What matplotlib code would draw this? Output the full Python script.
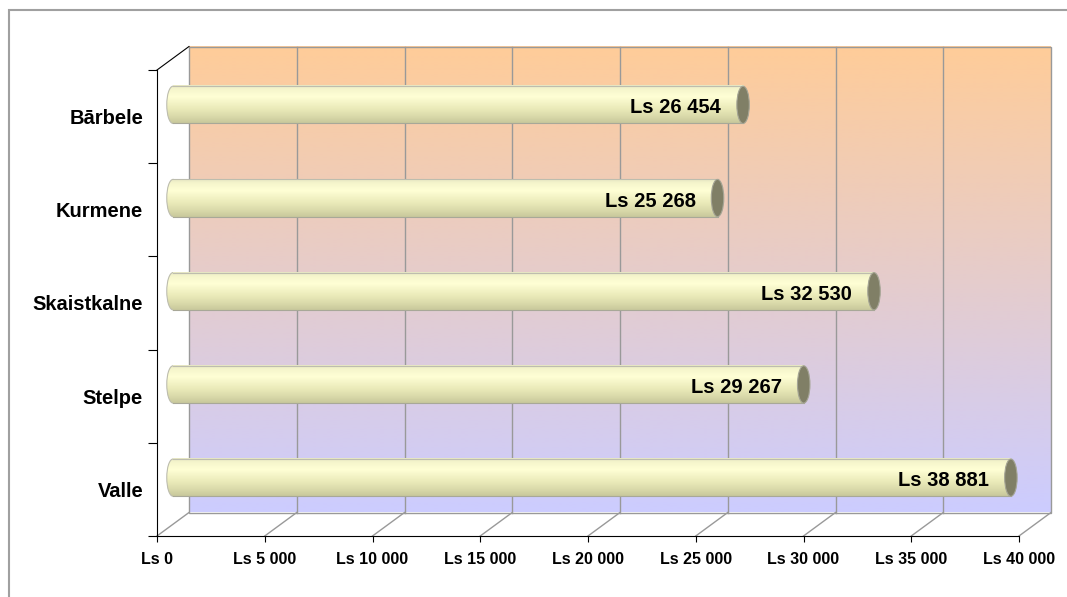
import numpy as np
import matplotlib
matplotlib.use("Agg")
import matplotlib.pyplot as plt
from matplotlib import transforms as mtransforms
from matplotlib.patches import Ellipse, Rectangle

# data (top to bottom as in the chart)
names = ["Bārbele", "Kurmene", "Skaistkalne", "Stelpe", "Valle"]
values = [26454, 25268, 32530, 29267, 38881]
ticks = [0, 5000, 10000, 15000, 20000, 25000, 30000, 35000, 40000]


def ls(v):
    return "Ls " + f"{v:,}".replace(",", " ")


plt.rcParams["font.family"] = ["Liberation Sans", "DejaVu Sans"]
plt.rcParams["font.weight"] = "bold"

W, H = 1067, 597
fig = plt.figure(figsize=(W / 100, H / 100), dpi=100)
ax = fig.add_axes([157 / W, (H - 536) / H, (1019 - 157) / W, (536 - 70) / H])
ax.set_xlim(0, 40000)
ax.set_ylim(0, len(names))
ax.patch.set_visible(False)

# depth planes (3d look)
back = ax.transData + mtransforms.ScaledTranslation(0.32, 0.235, fig.dpi_scale_trans)
mid = ax.transData + mtransforms.ScaledTranslation(0.16, 0.1175, fig.dpi_scale_trans)

# back wall with gradient
t = np.linspace(0, 1, 256)[:, None, None]
top_c = np.array([255, 204, 153]) / 255
bot_c = np.array([204, 204, 255]) / 255
wall = top_c * (1 - t) + bot_c * t
ax.imshow(wall, extent=[0, 40000, 0, len(names)], transform=back, aspect="auto",
          origin="upper", interpolation="bilinear", zorder=0, clip_on=False)
ax.add_patch(Rectangle((0, 0), 40000, len(names), transform=back, fill=False,
                       ec="#999999", lw=1, clip_on=False, zorder=1))
for v in ticks[1:-1]:
    ax.plot([v, v], [0, len(names)], transform=back, color="#999999", lw=1,
            clip_on=False, zorder=1)

# cylinder shading
stops = [0.0, 0.1, 0.3, 0.45, 0.6, 0.8, 1.0]
cols = np.array([[232, 232, 196], [245, 245, 204], [255, 255, 213], [245, 245, 200],
                 [236, 236, 187], [220, 220, 172], [200, 200, 156]]) / 255
s = np.linspace(0, 1, 64)
bar_img = np.stack([np.interp(s, stops, cols[:, k]) for k in range(3)], axis=-1)[:, None, :]

h = 0.4
we = 580
edge = "#BDBDAE"
n = len(names)
for i, (name, v) in enumerate(zip(names, values)):
    yc = n - 1 - i + 0.5
    y0, y1 = yc - h / 2, yc + h / 2
    clip_l = Ellipse((0, yc), we, h, transform=mid)
    im_l = ax.imshow(bar_img, extent=[-we / 2, we / 2, y0, y1], transform=mid,
                     aspect="auto", origin="upper", interpolation="bilinear", zorder=2.9)
    im_l.set_clip_path(clip_l)
    ax.add_patch(Ellipse((0, yc), we, h, transform=mid, fc="none", ec=edge, lw=0.8, zorder=2.95))
    ax.imshow(bar_img, extent=[0, v, y0, y1], transform=mid, aspect="auto",
              origin="upper", interpolation="bilinear", zorder=3.0)
    ax.plot([0, v], [y1, y1], transform=mid, color=edge, lw=0.8, zorder=3.1)
    ax.plot([0, v], [y0, y0], transform=mid, color="#A8A898", lw=0.8, zorder=3.1)
    ax.add_patch(Ellipse((v, yc), we, h, transform=mid, fc="#807F66", ec="#A5A595",
                         lw=0.8, zorder=3.3))
    ax.annotate(ls(v), xy=(v, yc), xycoords=mid, xytext=(-22, -3),
                textcoords="offset pixels", ha="right", va="center",
                fontsize=14.5, fontweight="bold", zorder=5)

ax.set_xlim(0, 40000)
ax.set_ylim(0, n)

# floor lines and left wall top edge
ident = mtransforms.IdentityTransform()
for v in ticks:
    p0 = ax.transData.transform((v, 0))
    p1 = back.transform((v, 0))
    ax.plot([p0[0], p1[0]], [p0[1], p1[1]], transform=ident, color="#999999", lw=1,
            clip_on=False, zorder=1)
p0 = ax.transData.transform((0, n))
p1 = back.transform((0, n))
ax.plot([p0[0], p1[0]], [p0[1], p1[1]], transform=ident, color="black", lw=0.8,
        clip_on=False, zorder=6)

# axes
for side in ["top", "right"]:
    ax.spines[side].set_visible(False)
for side in ["left", "bottom"]:
    ax.spines[side].set_color("black")
    ax.spines[side].set_linewidth(0.8)
    ax.spines[side].set_zorder(6)

ax.set_xticks(ticks)
ax.set_xticklabels([ls(v) for v in ticks])
ax.tick_params(axis="x", direction="out", length=4.5, width=0.8, pad=7, labelsize=11.5)
ax.set_yticks(range(n + 1))
ax.set_yticklabels([])
ax.tick_params(axis="y", which="major", direction="out", length=6.5, width=0.8)
ax.set_yticks([k + 0.5 for k in range(n)], minor=True)
ax.set_yticklabels(names[::-1], minor=True)
ax.tick_params(axis="y", which="minor", length=0, pad=10, labelsize=14.5)

# outer chart border
fig.add_artist(Rectangle((9 / W, -0.05), 1.1, 1 - 10 / H + 0.05, transform=fig.transFigure,
                         fill=False, ec="#A0A0A0", lw=1.5))

fig.savefig("out.png", dpi=100)
